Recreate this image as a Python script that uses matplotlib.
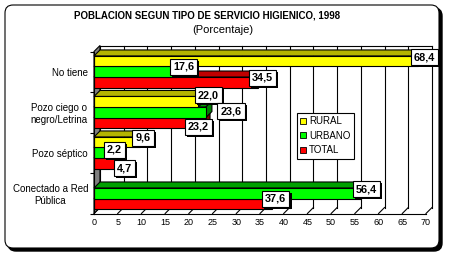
import matplotlib
matplotlib.use("Agg")
import matplotlib.pyplot as plt
from matplotlib.patches import Polygon, FancyBboxPatch, Patch
import matplotlib.patheffects as pe

categories = ['No tiene', 'Pozo ciego o\nnegro/Letrina', 'Pozo séptico', 'Conectado a Red\nPública']
series = ['RURAL', 'URBANO', 'TOTAL']
rural = [68.4, 22.0, 9.6, 0.0]
urbano = [17.6, 23.6, 2.2, 56.4]
total = [34.5, 23.2, 4.7, 37.6]
xticks = list(range(0, 75, 5))

front_col = ['#ffff00', '#00ff00', '#ff0000']
top_col = ['#b4b400', '#00a000', '#c00000']
side_col = ['#808000', '#008000', '#800000']

# label nudges in pixels (right, down) from bar end; default (6, -5)
nudge = {(0, 0): (6, -4), (0, 2): (4.5, -4.5),
         (1, 0): (10, -6.5), (1, 1): (25, -1), (1, 2): (-6, 4),
         (2, 0): (3.5, -4.5), (2, 1): (10, -3), (2, 2): (8, 5),
         (3, 1): (5, -4), (3, 2): (3.5, -5)}

W, H = 451, 261
fig = plt.figure(figsize=(W / 100, H / 100), dpi=100)

# rounded frame with shadow
fig.patches.append(FancyBboxPatch((0.08, 0.10), 4.34, 2.43, boxstyle='round,pad=0,rounding_size=0.08',
                                  transform=fig.dpi_scale_trans, fc='k', ec='k', zorder=-2))
fig.patches.append(FancyBboxPatch((0.05, 0.13), 4.34, 2.43, boxstyle='round,pad=0,rounding_size=0.08',
                                  transform=fig.dpi_scale_trans, fc='white', ec='k', lw=0.8, zorder=-1))

fig.text(207 / W, 1 - 15.5 / H, 'POBLACION SEGUN TIPO DE SERVICIO HIGIENICO, 1998',
         ha='center', va='center', fontsize=7, fontweight='bold',
         family=['Liberation Sans Narrow', 'Liberation Sans'])
fig.text(223 / W, 1 - 30 / H, '(Porcentaje)', ha='center', va='center', fontsize=8,
         family=['Liberation Sans'])

ax = fig.add_axes([94 / W, (H - 213.5) / H, 332 / W, 162 / H])
ax.patch.set_visible(False)
n = len(categories)
ax.set_xlim(0, 70)
ax.set_ylim(n, 0)

# depth offset of 6 px in data units
px = 6
dx = px * 70 / (332)
dy = px * n / 162

lw = 0.8
# back wall and grid
for v in xticks:
    ax.plot([v + dx, v + dx], [-dy, n - dy], color='k', lw=lw, clip_on=False, zorder=1)
    ax.plot([v, v + dx], [n, n - dy], color='k', lw=lw, clip_on=False, zorder=1)
ax.plot([dx, 70 + dx], [-dy, -dy], color='k', lw=lw, clip_on=False, zorder=1)
ax.add_patch(Polygon([(0, 0), (dx, -dy), (dx, n - dy), (0, n)], closed=True,
                     fc='#808080', ec='k', lw=lw, clip_on=False, zorder=2))

h = 0.26
vals = [rural, urbano, total]
for s in [2, 1, 0]:
    ys = [i + 0.5 + (s - 1) * h for i in range(n)]
    for i, v in enumerate(vals[s]):
        if v <= 0:
            continue
        yt, yb = ys[i] - h / 2, ys[i] + h / 2
        ax.add_patch(Polygon([(0, yt), (v, yt), (v + dx, yt - dy), (dx, yt - dy)], closed=True,
                             fc=top_col[s], ec='k', lw=lw, clip_on=False, zorder=3))
        ax.add_patch(Polygon([(v, yt), (v + dx, yt - dy), (v + dx, yb - dy), (v, yb)], closed=True,
                             fc=side_col[s], ec='k', lw=lw, clip_on=False, zorder=3))
        ax.barh(ys[i], v, height=h, color=front_col[s], edgecolor='k', lw=lw, zorder=3)

# data labels
for s in range(3):
    for i, v in enumerate(vals[s]):
        if v <= 0:
            continue
        yc = i + 0.5 + (s - 1) * h
        nx, ny = nudge.get((i, s), (6, -5))
        t = ax.annotate(f'{v:.1f}'.replace('.', ','), xy=(v, yc), xytext=(nx * 0.72, -ny * 0.72),
                        textcoords='offset points', ha='center', va='center', fontsize=7.8,
                        fontweight='bold', family=['Liberation Sans'], zorder=10,
                        bbox=dict(boxstyle='square,pad=0.28', fc='white', ec='k', lw=lw))
        t.get_bbox_patch().set_path_effects([
            pe.SimplePatchShadow(offset=(1.5, -1.5), shadow_rgbFace='k', alpha=1), pe.Normal()])

for sp in ['top', 'right']:
    ax.spines[sp].set_visible(False)
for sp in ['left', 'bottom']:
    ax.spines[sp].set_linewidth(lw)
    ax.spines[sp].set_zorder(6)

ax.set_xticks(xticks)
ax.set_xticklabels([str(v) for v in xticks], fontsize=6.5, family=['Liberation Sans'])
ax.tick_params(axis='x', length=0, pad=3.5)
ax.set_yticks(range(n + 1))
ax.set_yticklabels([])
ax.tick_params(axis='y', which='major', length=3, width=lw)
ax.set_yticks([i + 0.5 for i in range(n)], minor=True)
ax.set_yticklabels(categories, minor=True, fontsize=7, family=['Liberation Sans Narrow', 'Liberation Sans'],
                   multialignment='center')
ax.tick_params(axis='y', which='minor', length=0, pad=4.3)

handles = [Patch(fc=front_col[s], ec='k', lw=0.6) for s in range(3)]
leg = fig.legend(handles, series, loc='upper left', bbox_to_anchor=(297 / W, 1 - 113 / H),
                 bbox_transform=fig.transFigure, fancybox=False, framealpha=1, edgecolor='k',
                 prop={'family': ['Liberation Sans Narrow', 'Liberation Sans'], 'size': 7},
                 handlelength=0.6, handleheight=0.6, handletextpad=0.3, labelspacing=0.45,
                 borderpad=0.35, borderaxespad=0)
leg.get_frame().set_linewidth(lw)
leg.set_zorder(8)

fig.savefig('out.png', dpi=100)
